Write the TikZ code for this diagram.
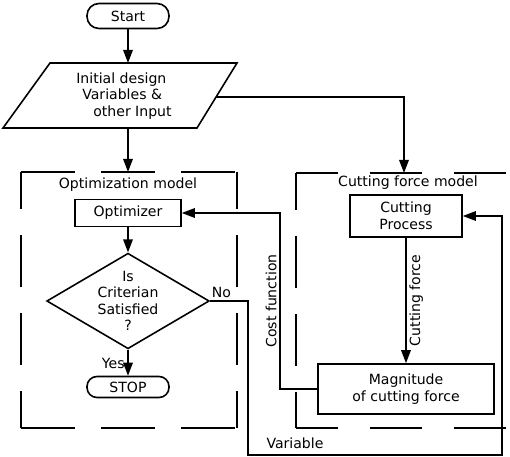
\documentclass[tikz,border=0pt]{standalone}
\usepackage{fontspec}
\setmainfont{DejaVu Sans}
\usetikzlibrary{arrows.meta,positioning,shapes.geometric}

\begin{document}
\begin{tikzpicture}[
  x=0.2mm, y=-0.2mm,
  font=\fontsize{8}{9.4}\selectfont,
  line width=0.9pt,
  flow/.style={-{Triangle[length=2.6mm, width=1.9mm]}},
  terminal/.style={draw, rounded corners=2.4mm, minimum width=16.4mm, minimum height=5mm, inner sep=1pt},
  box/.style={draw, align=center, inner sep=1pt},
  decision/.style={draw, diamond, align=center, minimum width=30mm, minimum height=17.6mm, inner sep=0pt, aspect=1.7},
  sideline/.style={dash pattern=on 10.4mm off 5.2mm, dash phase=3mm},
  crossline/.style={dash pattern=on 10.8mm off 5.2mm},
  tag/.style={inner sep=1.5pt}
]
\useasboundingbox (0,0) rectangle (510,457);

\node[terminal] (start) at (128,16) {Start};

% input parallelogram
\draw (50,63) -- (237,63) -- (197,128) -- (3,128) -- cycle;
\node[align=left] (input) at (124,96) {Initial design\\\hspace*{1.2mm}Variables \&\\\hspace*{3.4mm}other Input};
\coordinate (intop) at (128,63);
\coordinate (inbot) at (128,128);
\coordinate (inright) at (216,97);

% optimization model
\draw[sideline] (21,172) -- (21,428);
\draw[sideline] (237,172) -- (237,428);
\draw[crossline] (21,172) -- (237,172);
\draw[crossline] (21,428) -- (237,428);
\coordinate (opttop) at (128,172);
\node (opttitle) at (128,185) {Optimization model};
\node[box, minimum width=21.2mm, minimum height=5.4mm] (optimizer) at (128,213) {Optimizer};
\node[decision] (crit) at (128,301) {Is\\Criterian\\Satisfied\\?};
\node[terminal, minimum height=4.2mm, rounded corners=2mm] (stop) at (128,387) {STOP};

% cutting force model
\draw[sideline] (296,173) -- (296,428);
\draw[crossline, dash pattern=on 10.4mm off 6.4mm, dash phase=2mm] (296,173) -- (512,173);
\draw[crossline, dash pattern=on 10.4mm off 6.4mm, dash phase=2mm] (296,428) -- (512,428);
\coordinate (cuttop) at (404,173);
\node (cuttitle) at (408,183) {Cutting force model};
\node[box, minimum width=22.4mm, minimum height=8.4mm] (process) at (406,216) {Cutting\\Process};
\node[box, minimum width=35.2mm, minimum height=10mm] (mag) at (406,389) {Magnitude\\of cutting force};

\coordinate (nobend) at (248,301);
\coordinate (varcorner) at (502,455);
\coordinate (costup) at (280,213);

\draw[flow] (start) -- (intop);
\draw[flow] (inbot) -- (opttop);
\draw[flow] (inright) -| (cuttop);
\draw[flow] (optimizer) -- (crit);
\draw[flow] (crit) -- node[pos=0.55, left, tag] {Yes} (stop);
\draw[flow] (crit.east) -- node[pos=0.3, above, tag] {No} (nobend) |- (varcorner) |- (process.east);
\draw[flow] (process) -- node[midway, rotate=90, anchor=north, tag] {Cutting force} (mag);
\draw[flow] (mag.west) -| node[pos=0.75, rotate=90, anchor=south, tag] {Cost function} (costup) -- (optimizer.east);

\node (variable) at (295,443) {Variable};

\end{tikzpicture}
\end{document}
